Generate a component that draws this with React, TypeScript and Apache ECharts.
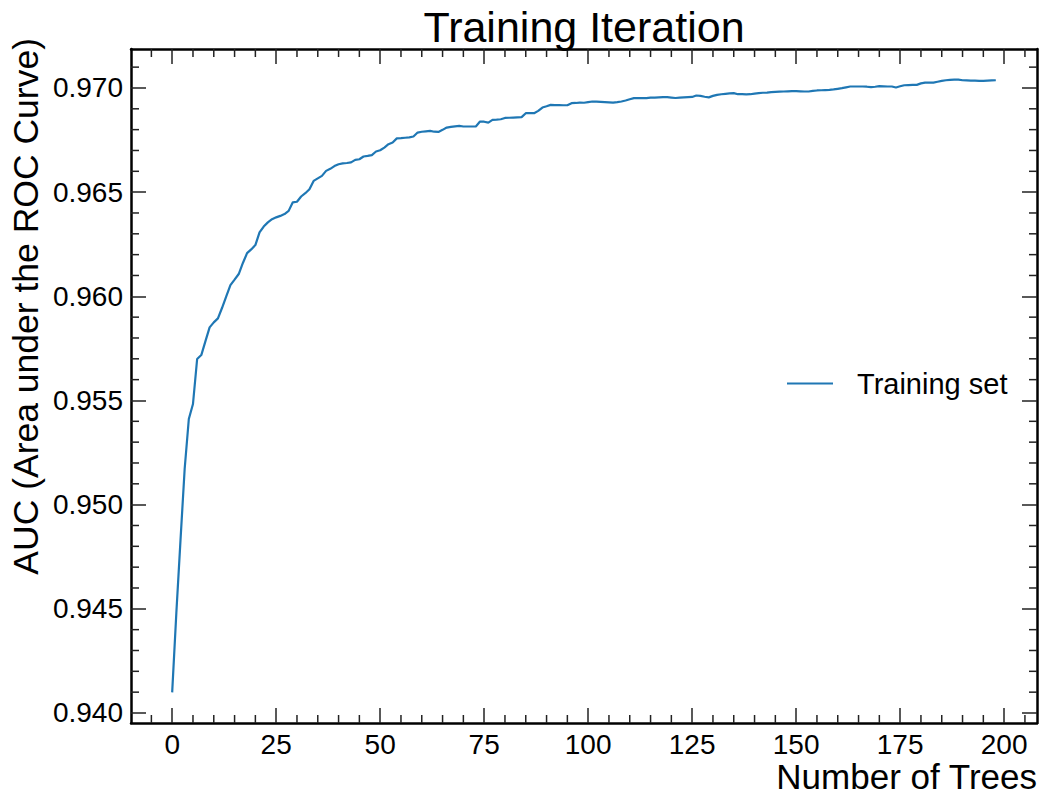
import React, { useEffect, useRef } from "react";
import * as echarts from "echarts";

const chartTitle = "Training Iteration";
const xAxisTitle = "Number of Trees";
const yAxisTitle = "AUC (Area under the ROC Curve)";
const seriesName = "Training set";

const xMajorTicks = [0, 25, 50, 75, 100, 125, 150, 175, 200];
const xMinorTicks = [-5, 5, 10, 15, 20, 30, 35, 40, 45, 55, 60, 65, 70, 80, 85, 90, 95, 105, 110, 115, 120, 130, 135, 140, 145, 155, 160, 165, 170, 180, 185, 190, 195, 205];
const yMajorTicks = [0.94, 0.945, 0.95, 0.955, 0.96, 0.965, 0.97];
const yMinorTicks = [0.941, 0.942, 0.943, 0.944, 0.946, 0.947, 0.948, 0.949, 0.951, 0.952, 0.953, 0.954, 0.956, 0.957, 0.958, 0.959, 0.961, 0.962, 0.963, 0.964, 0.966, 0.967, 0.968, 0.969, 0.971];

// AUC of the training set after each number of trees (index 0..198)
const aucTraining = [
  0.94099, 0.94480, 0.94830, 0.95171, 0.95411, 0.95483, 0.95699, 0.95718, 0.95785, 0.95851,
  0.95875, 0.95894, 0.95945, 0.96000, 0.96054, 0.96080, 0.96107, 0.96160, 0.96207, 0.96225,
  0.96246, 0.96307, 0.96335, 0.96355, 0.96370, 0.96379, 0.96386, 0.96395, 0.96410, 0.96451,
  0.96454, 0.96479, 0.96495, 0.96514, 0.96554, 0.96566, 0.96578, 0.96602, 0.96612, 0.96625,
  0.96634, 0.96638, 0.96640, 0.96643, 0.96655, 0.96658, 0.96671, 0.96674, 0.96678, 0.96695,
  0.96701, 0.96714, 0.96730, 0.96738, 0.96758, 0.96759, 0.96761, 0.96763, 0.96767, 0.96786,
  0.96790, 0.96792, 0.96794, 0.96790, 0.96789, 0.96799, 0.96810, 0.96813, 0.96816, 0.96818,
  0.96815, 0.96815, 0.96815, 0.96815, 0.96839, 0.96838, 0.96834, 0.96847, 0.96848, 0.96850,
  0.96856, 0.96857, 0.96858, 0.96859, 0.96860, 0.96879, 0.96879, 0.96879, 0.96890, 0.96906,
  0.96912, 0.96919, 0.96918, 0.96918, 0.96917, 0.96917, 0.96927, 0.96928, 0.96930, 0.96929,
  0.96932, 0.96935, 0.96934, 0.96933, 0.96932, 0.96931, 0.96930, 0.96932, 0.96935, 0.96940,
  0.96946, 0.96951, 0.96951, 0.96951, 0.96951, 0.96954, 0.96954, 0.96955, 0.96956, 0.96956,
  0.96954, 0.96952, 0.96954, 0.96955, 0.96956, 0.96957, 0.96964, 0.96962, 0.96958, 0.96955,
  0.96962, 0.96967, 0.96970, 0.96972, 0.96974, 0.96975, 0.96970, 0.96970, 0.96969, 0.96970,
  0.96973, 0.96975, 0.96977, 0.96978, 0.96980, 0.96981, 0.96982, 0.96983, 0.96984, 0.96985,
  0.96985, 0.96984, 0.96983, 0.96983, 0.96986, 0.96988, 0.96989, 0.96990, 0.96991, 0.96993,
  0.96996, 0.96999, 0.97003, 0.97007, 0.97007, 0.97007, 0.97007, 0.97006, 0.97004, 0.97006,
  0.97009, 0.97008, 0.97007, 0.97007, 0.97002, 0.97008, 0.97013, 0.97014, 0.97015, 0.97015,
  0.97022, 0.97026, 0.97026, 0.97026, 0.97030, 0.97034, 0.97037, 0.97039, 0.97040, 0.97040,
  0.97037, 0.97036, 0.97035, 0.97035, 0.97034, 0.97034, 0.97035, 0.97036, 0.97037,
];

const FONT = "'Liberation Sans', Arial, Helvetica, sans-serif";
const TICK_COLOR = "#222";
const MINOR_LEN = 8;

export default function App() {
  const ref = useRef<HTMLDivElement>(null);

  useEffect(() => {
    if (!ref.current) return;
    const chart = echarts.init(ref.current, null, { renderer: "svg" });

    const n = aucTraining.length;
    const xSpan = n - 1;
    const xMin = -0.05 * xSpan;
    const xMax = xSpan + 0.05 * xSpan;
    const yLo = Math.min(...aucTraining);
    const yHi = Math.max(...aucTraining);
    const ySpan = yHi - yLo;
    const yMin = yLo - 0.05 * ySpan;
    const yMax = yHi + 0.05 * ySpan;

    const data = aucTraining.map((v, i) => [i, v]);

    const makeX = (position: "bottom" | "top") => ({
      type: "value",
      position,
      min: xMin,
      max: xMax,
      splitLine: { show: false },
      axisLine: { show: true, onZero: false, lineStyle: { color: "#000", width: 2.5 } },
      axisTick: {
        show: true,
        inside: true,
        length: 15,
        customValues: xMajorTicks,
        lineStyle: { color: TICK_COLOR, width: 1.5 },
      },
      axisLabel:
        position === "bottom"
          ? {
              show: true,
              customValues: xMajorTicks,
              fontSize: 28,
              fontFamily: FONT,
              color: "#000",
              margin: 7,
              formatter: (v: number) => String(Math.round(v)),
            }
          : { show: false },
    });
    const makeY = (position: "left" | "right") => ({
      type: "value",
      position,
      min: yMin,
      max: yMax,
      splitLine: { show: false },
      axisLine: { show: true, onZero: false, lineStyle: { color: "#000", width: 2.5 } },
      axisTick: {
        show: true,
        inside: true,
        length: 15,
        customValues: yMajorTicks,
        lineStyle: { color: TICK_COLOR, width: 1.5 },
      },
      axisLabel:
        position === "left"
          ? {
              show: true,
              customValues: yMajorTicks,
              fontSize: 28,
              fontFamily: FONT,
              color: "#000",
              margin: 8,
              formatter: (v: number) => v.toFixed(3),
            }
          : { show: false },
    });

    const tickStyle = { stroke: TICK_COLOR, lineWidth: 1.5 };

    chart.setOption({
      animation: false,
      backgroundColor: "#fff",
      title: {
        text: chartTitle,
        left: 579,
        top: 0,
        textAlign: "center",
        textStyle: { fontSize: 43, fontWeight: "normal", fontFamily: FONT, color: "#000" },
      },
      grid: { left: 131, right: 4, top: 49, bottom: 72, containLabel: false },
      xAxis: [makeX("bottom"), makeX("top")],
      yAxis: [makeY("left"), makeY("right")],
      legend: {
        left: 781,
        top: 364,
        orient: "vertical",
        itemWidth: 46,
        itemHeight: 14,
        data: [seriesName],
        itemStyle: { opacity: 0 },
        textStyle: { fontSize: 29, fontFamily: FONT, color: "#000", padding: [0, 0, 0, 19] },
      },
      graphic: [
        {
          type: "text",
          x: 1037,
          y: 776,
          style: {
            text: xAxisTitle,
            fontSize: 35,
            fontFamily: FONT,
            fill: "#000",
            textAlign: "right",
            textVerticalAlign: "middle",
          },
        },
        {
          type: "text",
          x: 26,
          y: 38,
          rotation: Math.PI / 2,
          style: {
            text: yAxisTitle,
            fontSize: 35.5,
            fontFamily: FONT,
            fill: "#000",
            textAlign: "right",
            textVerticalAlign: "middle",
          },
        },
      ],
      series: [
        {
          name: seriesName,
          type: "line",
          xAxisIndex: 0,
          yAxisIndex: 0,
          data,
          symbol: "none",
          z: 3,
          lineStyle: { color: "#1f77b4", width: 2.2 },
          itemStyle: { color: "#1f77b4" },
        },
        {
          name: "xMinorTicks",
          type: "custom",
          xAxisIndex: 0,
          yAxisIndex: 0,
          silent: true,
          z: 2,
          data: xMinorTicks.map((v) => [v, yMin]),
          renderItem: (params: any, api: any) => {
            const cs = params.coordSys;
            const x = api.coord([api.value(0), yMin])[0];
            return {
              type: "group",
              children: [
                { type: "line", shape: { x1: x, y1: cs.y + cs.height, x2: x, y2: cs.y + cs.height - MINOR_LEN }, style: tickStyle },
                { type: "line", shape: { x1: x, y1: cs.y, x2: x, y2: cs.y + MINOR_LEN }, style: tickStyle },
              ],
            };
          },
        },
        {
          name: "yMinorTicks",
          type: "custom",
          xAxisIndex: 0,
          yAxisIndex: 0,
          silent: true,
          z: 2,
          data: yMinorTicks.map((v) => [xMin, v]),
          renderItem: (params: any, api: any) => {
            const cs = params.coordSys;
            const y = api.coord([xMin, api.value(1)])[1];
            return {
              type: "group",
              children: [
                { type: "line", shape: { x1: cs.x, y1: y, x2: cs.x + MINOR_LEN, y2: y }, style: tickStyle },
                { type: "line", shape: { x1: cs.x + cs.width, y1: y, x2: cs.x + cs.width - MINOR_LEN, y2: y }, style: tickStyle },
              ],
            };
          },
        },
      ],
    });

    return () => chart.dispose();
  }, []);

  return (
    <div
      ref={ref}
      style={{ position: "absolute", left: 0, top: 0, width: 1041, height: 795 }}
    />
  );
}
